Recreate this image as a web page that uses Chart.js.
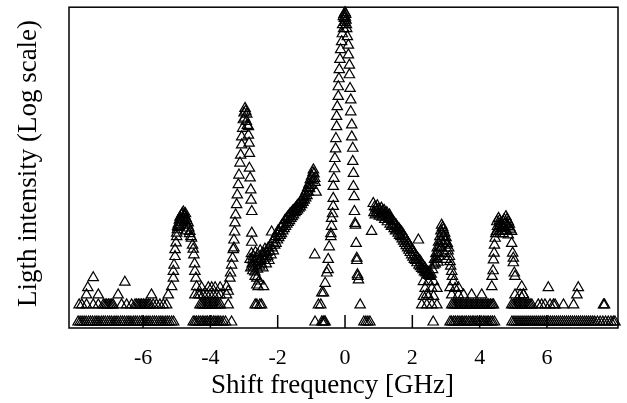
<!DOCTYPE html>
<html>
<head>
<meta charset="utf-8">
<script src="https://cdn.jsdelivr.net/npm/chart.js@4.4.0/dist/chart.umd.min.js"></script>
<style>
html,body{margin:0;padding:0;background:#fff;}
#wrap{width:627px;height:403px;position:relative;}
</style>
</head>
<body>
<div id="wrap"><canvas id="c" width="627" height="403"></canvas></div>
<script>
// ---------------- data (shift frequency in GHz, intensity as log10 of counts) ----------------
const xTickLabels = [-6, -4, -2, 0, 2, 4, 6];
const xTitle = 'Shift frequency [GHz]';
const yTitle = 'Ligth intensity (Log scale)';

// noise floor: frequencies where the count was 1, 2, 3, 4, 5, 6
const floorCount1 = [
 -7.93,-7.87,-7.81,-7.75,-7.69,-7.62,-7.56,-7.50,-7.43,-7.37,-7.31,-7.24,-7.18,-7.12,-7.05,-6.99,-6.93,-6.86,-6.80,-6.74,-6.67,-6.61,-6.55,-6.48,-6.42,-6.36,-6.29,-6.23,-6.17,-6.10,-6.04,-5.98,-5.91,-5.85,-5.79,-5.72,-5.66,-5.60,-5.53,-5.47,-5.41,-5.34,-5.28,-5.22,-5.15,-5.09,
 -4.51,-4.46,-4.41,-4.35,-4.30,-4.24,-4.19,-4.13,-4.08,-4.02,-3.97,-3.91,-3.86,-3.80,-3.75,-3.69,-3.62,-3.55,-3.37,
 -0.89,-0.69,-0.65,-0.62,-0.59,0.56,0.62,0.68,0.74,2.62,
 3.12,3.17,3.23,3.28,3.34,3.39,3.45,3.50,3.56,3.61,3.67,3.72,3.78,3.83,3.89,3.94,4.00,4.05,4.11,4.16,4.22,4.27,4.33,4.38,4.44,
 4.96,5.02,5.08,5.14,5.20,5.26,5.32,5.38,5.44,5.50,5.56,5.62,5.68,5.74,5.80,5.86,5.92,5.98,6.04,6.10,6.16,6.22,6.28,6.34,6.40,6.46,6.52,6.58,6.64,6.70,6.76,6.82,6.88,6.94,7.00,7.06,7.12,7.18,7.24,7.30,7.36,7.42,7.50,7.58,7.66,7.74,7.82,7.90,7.97,8.02
];
const floorCount2 = [
 -7.90,-7.82,-7.68,-7.48,-7.33,-7.18,-7.13,-7.08,-7.03,-6.98,-6.93,-6.89,-6.64,-6.49,-6.34,-6.24,-6.19,-6.14,-6.09,-6.04,-5.99,-5.94,-5.89,-5.84,-5.79,-5.70,-5.60,-5.50,-5.40,-5.30,
 -4.31,-4.26,-4.21,-4.16,-4.11,-4.06,-4.01,-3.96,-3.91,-3.86,-3.81,-3.76,-3.70,-3.47,
 -2.67,-2.62,-2.53,-2.48,
 -0.79,-0.72,0.45,
 2.28,2.43,2.58,2.73,
 3.17,3.22,3.27,3.32,3.37,3.42,3.47,3.52,3.57,3.62,3.67,3.72,3.77,3.82,3.87,3.92,3.97,4.02,4.07,4.12,4.17,4.22,4.27,4.32,4.37,4.41,
 4.95,5.00,5.05,5.10,5.15,5.20,5.25,5.30,5.35,5.40,5.45,5.50,5.55,5.74,5.84,5.94,6.09,6.19,6.24,6.49,6.79,7.68,7.71
];
const floorCount3 = [-7.68,-7.33,-6.74,-5.75,-5.25,-4.46,-4.31,-4.21,-4.11,-4.01,-3.91,-3.81,-3.71,-3.52,3.17,3.37,3.52,3.76,4.06,5.05,5.20,5.30,6.89];
const floorCount4 = [-7.64,-4.26,-4.06,-3.96,-3.86,-3.71,3.12,3.37,6.04,6.93];
const floorCount5 = [-6.54];
const floorCount6 = [-7.48];

// spectral features: [shift GHz, log10 intensity]
const peakMinus5 = [
 [-5.15,0.62],[-5.10,0.77],[-5.10,0.89],[-5.08,1.00],[-5.05,1.15],[-5.05,1.27],[-5.02,1.39],[-5.00,1.50],[-5.00,1.56],[-4.98,1.62],
 [-4.97,1.68],[-4.96,1.66],[-4.95,1.72],[-4.92,1.79],[-4.92,1.70],[-4.90,1.84],[-4.88,1.80],[-4.86,1.75],[-4.85,1.88],[-4.83,1.91],
 [-4.80,1.93],[-4.80,1.80],[-4.78,1.88],[-4.76,1.86],[-4.76,1.76],[-4.74,1.90],[-4.72,1.82],[-4.72,1.60],[-4.70,1.78],[-4.68,1.70],
 [-4.66,1.74],[-4.64,1.65],[-4.62,1.55],[-4.61,1.59],[-4.58,1.50],[-4.56,1.47],[-4.53,1.35],[-4.51,1.28],[-4.49,1.18],[-4.47,1.02],
 [-4.46,0.89],[-4.43,0.77],[-4.41,0.62],[-4.36,0.48]
];
const peakMinus3 = [
 [-3.52,0.62],[-3.47,0.54],[-3.42,0.77],[-3.40,0.86],[-3.37,1.00],[-3.34,1.12],[-3.32,1.27],[-3.30,1.30],[-3.30,1.44],[-3.28,1.58],
 [-3.27,1.74],[-3.25,1.88],[-3.22,2.06],[-3.20,2.23],[-3.17,2.41],[-3.15,2.58],[-3.12,2.79],[-3.10,2.93],[-3.07,3.11],[-3.07,3.25],
 [-3.04,3.40],[-3.02,3.55],[-3.00,3.67],[-2.98,3.58],[-2.97,3.75],[-2.95,3.70],[-2.93,3.52],[-2.92,3.65],[-2.90,3.45],[-2.87,3.43],
 [-2.87,3.28],[-2.85,3.14],[-2.84,2.96],[-2.84,2.70],[-2.82,2.53],[-2.80,2.32],[-2.79,2.14],[-2.77,1.94],[-2.77,1.56],[-2.77,1.40],
 [-2.74,1.09],[-2.73,0.97],[-2.67,0.80],[-2.62,0.65],[-2.62,0.77],[-2.58,0.62],[-2.55,0.72],[-2.42,0.62]
];
const risingSlope = [
 [-2.82,1.10],[-2.80,0.95],[-2.78,1.20],[-2.76,1.02],[-2.74,0.90],[-2.72,1.15],[-2.70,1.05],[-2.68,0.88],[-2.66,1.22],[-2.64,1.00],
 [-2.62,1.12],[-2.60,0.93],[-2.58,1.18],[-2.56,1.06],[-2.54,0.98],[-2.52,1.25],[-2.50,1.10],[-2.48,1.02],[-2.46,1.16],[-2.44,0.95],
 [-2.42,1.20],[-2.40,1.08],[-2.38,1.28],[-2.36,1.12],[-2.34,1.02],[-2.32,1.22],[-2.30,1.15],[-2.28,1.30],[-2.26,1.08],[-2.24,1.24],
 [-2.22,1.34],[-2.20,1.18],[-2.18,1.58],[-2.17,1.30],[-2.15,1.40],[-2.13,1.25],[-2.11,1.45],[-2.09,1.35],[-2.07,1.50],[-2.05,1.38],
 [-2.03,1.55],[-2.01,1.44],[-1.99,1.60],[-1.97,1.48],[-1.95,1.58],[-1.93,1.52],[-1.91,1.66],[-1.89,1.55],[-1.87,1.70],[-1.85,1.60],
 [-1.83,1.72],[-1.81,1.64],[-1.79,1.78],[-1.77,1.68],[-1.75,1.80],[-1.73,1.72],[-1.71,1.84],[-1.69,1.75],[-1.67,1.86],[-1.65,1.78],
 [-1.63,1.90],[-1.61,1.82],[-1.59,1.92],[-1.57,1.85],[-1.55,1.95],[-1.53,1.88],[-1.51,1.97],[-1.49,1.92],[-1.47,2.00],[-1.45,1.94],
 [-1.43,2.03],[-1.41,1.97],[-1.39,2.06],[-1.37,2.00],[-1.35,2.08],[-1.33,2.02],[-1.31,2.12],[-1.29,2.06],[-1.27,2.15],[-1.25,2.10],
 [-1.23,2.20],[-1.21,2.14],[-1.19,2.25],[-1.17,2.18],[-1.15,2.30],[-1.13,2.22],[-1.11,2.36],[-1.09,2.28],[-1.07,2.42],[-1.05,2.34],
 [-1.03,2.50],[-1.01,2.40],[-0.99,2.56],[-0.97,2.48],[-0.95,2.62],[-0.94,2.67],[-0.92,2.60],[-0.90,2.52],[-0.89,2.45],[-0.86,2.28],
 [-0.90,1.18]
];
const centralPeak = [
 [-0.69,0.51],[-0.64,0.51],[-0.59,0.68],[-0.54,0.86],[-0.50,0.92],[-0.50,1.10],[-0.47,1.32],[-0.42,1.50],[-0.42,1.55],[-0.40,1.68],
 [-0.40,1.82],[-0.37,1.90],[-0.35,2.03],[-0.35,2.17],[-0.35,2.38],[-0.33,2.52],[-0.31,2.69],[-0.30,2.87],[-0.28,3.04],[-0.27,3.22],
 [-0.25,3.43],[-0.25,3.61],[-0.23,3.78],[-0.20,3.96],[-0.20,4.13],[-0.18,4.27],[-0.17,4.43],[-0.15,4.61],[-0.13,4.78],[-0.10,4.92],
 [-0.08,5.06],[-0.07,5.22],[-0.05,5.36],[-0.04,5.15],[-0.03,5.40],[-0.02,5.33],[0.00,5.43],[0.00,5.26],[0.01,5.35],[0.02,5.40],
 [0.03,5.30],[0.04,5.22],[0.05,5.15],[0.07,5.01],[0.10,4.86],[0.10,4.69],[0.13,4.51],[0.13,4.34],[0.15,4.10],[0.17,3.90],
 [0.17,3.69],[0.20,3.46],[0.20,3.25],[0.23,3.05],[0.23,2.82],[0.25,2.61],[0.25,2.38],[0.27,2.20],[0.28,1.94],[0.30,1.73],
 [0.31,1.70],[0.33,1.38],[0.35,1.12],[0.35,1.08],[0.37,0.83],[0.38,0.80],[0.40,0.74]
];
const fallingSlope = [
 [0.79,1.59],[0.84,2.08],[0.86,1.92],[0.88,2.02],[0.90,1.88],[0.92,2.00],[0.94,1.95],[0.96,2.04],[0.98,1.90],[1.00,1.98],
 [1.02,1.86],[1.04,1.96],[1.06,1.90],[1.08,2.00],[1.10,1.84],[1.12,1.94],[1.14,1.88],[1.16,1.96],[1.18,1.80],[1.20,1.90],
 [1.22,1.84],[1.24,1.92],[1.26,1.76],[1.28,1.86],[1.30,1.80],[1.32,1.88],[1.34,1.72],[1.36,1.82],[1.38,1.68],[1.40,1.78],
 [1.42,1.70],[1.44,1.76],[1.46,1.64],[1.48,1.72],[1.50,1.60],[1.52,1.70],[1.54,1.62],[1.56,1.66],[1.58,1.56],[1.60,1.64],
 [1.62,1.52],[1.64,1.60],[1.66,1.50],[1.68,1.58],[1.70,1.46],[1.72,1.54],[1.74,1.42],[1.76,1.50],[1.78,1.38],[1.80,1.46],
 [1.82,1.34],[1.84,1.42],[1.86,1.30],[1.88,1.38],[1.90,1.26],[1.92,1.34],[1.94,1.22],[1.96,1.30],[1.98,1.18],[2.00,1.27],
 [2.02,1.14],[2.04,1.22],[2.06,1.10],[2.08,1.18],[2.10,1.08],[2.12,1.15],[2.14,1.04],[2.16,1.12],[2.18,1.44],[2.20,1.00],
 [2.22,1.08],[2.24,0.97],[2.26,1.04],[2.28,0.94],[2.30,1.00],[2.32,0.92],[2.34,0.97],[2.36,0.88],[2.38,0.94],[2.40,0.86],
 [2.42,0.90],[2.44,0.84],[2.46,0.88],[2.48,0.82],[2.50,0.86],[2.53,0.80],[2.56,0.84]
];
const dipCluster = [
 [2.33,0.71],[2.48,0.71],[2.63,0.71],[2.38,0.59],[2.58,0.59],[2.73,0.59],[2.33,0.45],[2.48,0.45],[2.63,0.45],[2.43,0.48]
];
const peakPlus3 = [
 [2.60,0.92],[2.63,1.00],[2.66,1.10],[2.68,1.02],[2.70,1.20],[2.72,1.12],[2.74,1.30],[2.76,1.22],[2.76,1.05],[2.78,1.40],
 [2.80,1.32],[2.80,1.15],[2.82,1.50],[2.84,1.42],[2.85,1.60],[2.86,1.30],[2.87,1.70],[2.88,1.55],[2.90,1.66],[2.92,1.62],
 [2.92,1.38],[2.94,1.50],[2.96,1.56],[2.96,1.20],[2.98,1.42],[3.00,1.48],[3.00,1.10],[3.02,1.35],[3.04,1.38],[3.06,1.25],
 [3.08,1.30],[3.10,1.15],[3.12,1.06],[3.14,0.98],[3.17,0.89],[3.19,0.80],[3.22,0.71],[3.27,0.59]
];
const peakPlus47 = [
 [4.36,0.62],[4.37,0.80],[4.40,0.90],[4.41,1.09],[4.43,1.21],[4.44,1.35],[4.46,1.47],[4.48,1.55],[4.50,1.59],[4.51,1.76],
 [4.53,1.68],[4.56,1.82],[4.56,1.65],[4.59,1.78],[4.60,1.55],[4.61,1.73],[4.63,1.64],[4.66,1.70],[4.66,1.59],[4.68,1.66],
 [4.70,1.76],[4.70,1.55],[4.73,1.80],[4.75,1.59],[4.76,1.72],[4.78,1.85],[4.80,1.60],[4.81,1.80],[4.83,1.68],[4.85,1.76],
 [4.85,1.53],[4.88,1.72],[4.90,1.65],[4.92,1.62],[4.95,1.59],[4.95,1.38],[4.98,1.21],[5.00,1.12],[5.00,1.04],[5.03,0.86],
 [5.05,0.80],[5.25,0.62],[5.30,0.48]
];

// ---------------- build points ----------------
const floorSets = [floorCount1, floorCount2, floorCount3, floorCount4, floorCount5, floorCount6];
const points = [];
floorSets.forEach((xs, i) => {
  const level = Math.log10(i + 1);
  xs.forEach(x => points.push({x: x, y: level}));
});
[peakMinus5, peakMinus3, risingSlope, centralPeak, fallingSlope, dipCluster, peakPlus3, peakPlus47]
  .forEach(arr => arr.forEach(p => points.push({x: p[0], y: p[1]})));

const SERIF = '"Liberation Serif", "Times New Roman", serif';

const decorPlugin = {
  id: 'decor',
  beforeDatasetsDraw(chart) {
    const {ctx, chartArea: a, scales: {x}} = chart;
    ctx.save();
    ctx.strokeStyle = '#000';
    ctx.lineWidth = 1.5;
    xTickLabels.forEach(v => {
      const px = x.getPixelForValue(v);
      ctx.beginPath();
      ctx.moveTo(px, a.bottom);
      ctx.lineTo(px, a.bottom - 13);
      ctx.stroke();
    });
    ctx.restore();
  },
  afterDatasetsDraw(chart) {
    const {ctx, chartArea: a} = chart;
    ctx.save();
    ctx.strokeStyle = '#000';
    ctx.lineWidth = 1.5;
    ctx.strokeRect(a.left, a.top, a.right - a.left, a.bottom - a.top);
    ctx.fillStyle = '#000';
    ctx.font = '27px ' + SERIF;
    ctx.textAlign = 'center';
    ctx.textBaseline = 'alphabetic';
    ctx.fillText(xTitle, 332.5, 393);
    ctx.translate(36, 163.5);
    ctx.rotate(-Math.PI / 2);
    ctx.fillText(yTitle, 0, 0);
    ctx.restore();
  }
};

new Chart(document.getElementById('c'), {
  type: 'scatter',
  data: {
    datasets: [{
      data: points,
      pointStyle: 'triangle',
      pointRadius: 6,
      pointHoverRadius: 6,
      pointBorderWidth: 1.2,
      borderColor: '#000',
      backgroundColor: 'rgba(0,0,0,0)',
      clip: false
    }]
  },
  options: {
    responsive: false,
    animation: false,
    events: [],
    layout: {padding: {top: 7, right: 9, left: 0, bottom: 0}},
    plugins: {legend: {display: false}, tooltip: {enabled: false}},
    scales: {
      x: {
        type: 'linear',
        min: -8.2,
        max: 8.11,
        grid: {display: false},
        border: {display: false},
        afterBuildTicks: s => { s.ticks = xTickLabels.map(v => ({value: v})); },
        afterFit: s => { s.height = 75; },
        ticks: {
          color: '#000',
          padding: 9,
          maxRotation: 0,
          autoSkip: false,
          font: {family: SERIF, size: 22}
        }
      },
      y: {
        type: 'linear',
        min: -0.105,
        max: 5.526,
        grid: {display: false},
        border: {display: false},
        ticks: {display: false},
        afterFit: s => { s.width = 69; }
      }
    }
  },
  plugins: [decorPlugin]
});
</script>
</body>
</html>
